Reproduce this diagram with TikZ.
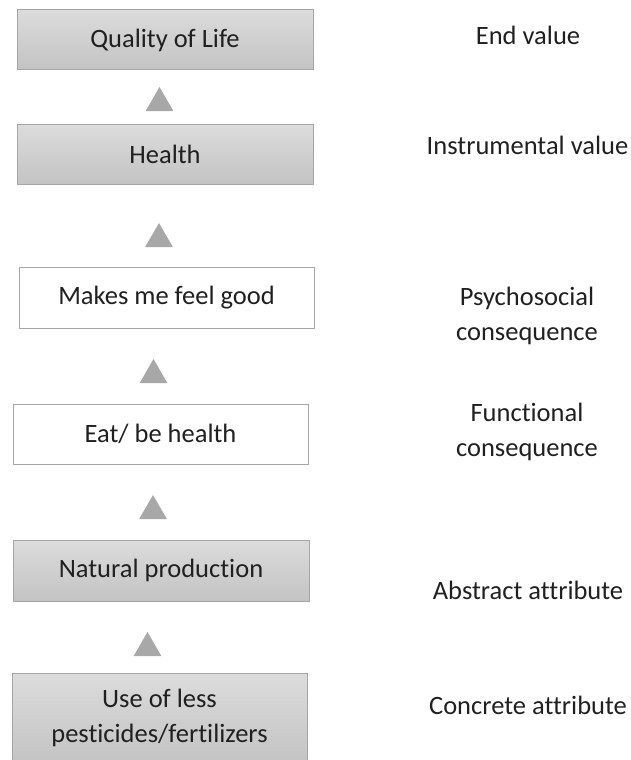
\documentclass[tikz,border=0pt]{standalone}
\usepackage{fontspec}
\setmainfont{Carlito}[Ligatures=NoCommon]
\usepackage{tikz}
\usetikzlibrary{shapes.geometric}
\definecolor{boxTop}{HTML}{DCDCDC}
\definecolor{boxBottom}{HTML}{C3C3C3}
\definecolor{boxLine}{HTML}{A6A6A6}
\definecolor{arrowGray}{HTML}{A8A8A8}
\definecolor{labelText}{HTML}{202020}
\tikzstyle{mGrayBox} = [rectangle, minimum width=296pt, minimum height=60pt, text centered, draw=boxLine, line width=1pt, top color=boxTop, bottom color=boxBottom, text=labelText]
\tikzstyle{mWhiteBox} = [rectangle, minimum width=295pt, minimum height=61pt, text centered, draw=boxLine, line width=1pt, fill=white, text=labelText]
\tikzstyle{mTriangle} = [regular polygon, regular polygon sides=3, minimum size=32pt, inner sep=0pt, fill=arrowGray]
\tikzstyle{mLabel} = [text centered, align=center, text=labelText]

\begin{document}
\begin{tikzpicture}[x=1pt, y=-1pt, font=\fontsize{26.5}{35}\selectfont]
    \useasboundingbox (0,0) rectangle (630,760);
    \node (life) [mGrayBox] at (165,40) {Quality of Life};
    \node (health) [mGrayBox] at (165,154) {Health};
    \node (feelgood) [mWhiteBox] at (166.5,297.5) {Makes me feel good};
    \node (eat) [mWhiteBox, minimum height=60pt] at (160.5,434) {Eat/ be health};
    \node (natural) [mGrayBox, minimum height=61pt] at (161,570.5) {Natural production};
    \node (pesticides) [mGrayBox, minimum width=295pt, minimum height=90pt, align=center] at (159.5,718) {Use of less\\pesticides/fertilizers};

    \node (up1) [mTriangle] at (159.5,103) {};
    \node (up2) [mTriangle] at (159,239) {};
    \node (up3) [mTriangle] at (153.5,375) {};
    \node (up4) [mTriangle] at (153,511) {};
    \node (up5) [mTriangle] at (147.5,648) {};

    \node (endvalue) [mLabel] at (528,35) {End value};
    \node (instrumental) [mLabel] at (527.5,145) {Instrumental value};
    \node (psychosocial) [mLabel] at (527,316) {Psychosocial\\consequence};
    \node (functional) [mLabel] at (527,432) {Functional\\consequence};
    \node (abstract) [mLabel] at (528,590) {Abstract attribute};
    \node (concrete) [mLabel] at (528,705) {Concrete attribute};
\end{tikzpicture}
\end{document}
